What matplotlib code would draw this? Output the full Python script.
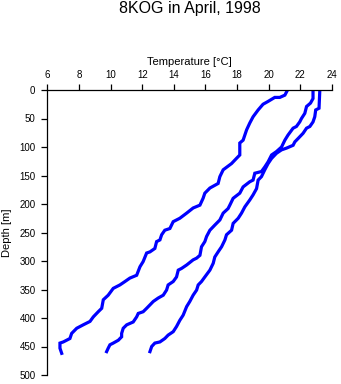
import matplotlib
matplotlib.use("Agg")
import matplotlib.pyplot as plt

plt.rcParams["font.family"] = ["Liberation Sans", "DejaVu Sans"]

# profile 1 (warm surface 21.2)
temp_a = [21.19, 21.02, 20.70, 20.38, 19.96, 19.64, 19.33, 19.01, 18.80, 18.60,
          18.38, 18.17, 18.17, 17.96, 17.65, 17.12, 16.91, 16.80, 16.28, 15.96,
          15.85, 15.65, 15.22, 14.81, 14.38, 13.96, 13.75, 13.43, 13.23, 13.12,
          12.91, 12.80, 12.49, 12.28, 12.06, 11.86, 11.65, 11.22, 10.91, 10.59,
          10.17, 9.85, 9.54, 9.44, 9.22, 8.91, 8.70, 8.27, 7.86, 7.54,
          7.43, 7.01, 6.80, 6.80, 6.91]
depth_a = [0, 9, 13, 13, 20, 25, 35, 47, 58, 70,
           88, 93, 114, 120, 129, 140, 152, 164, 172, 181,
           190, 202, 207, 216, 225, 231, 243, 246, 254, 263,
           266, 278, 284, 286, 301, 310, 325, 330, 336, 342,
           348, 360, 368, 383, 389, 398, 406, 412, 418, 427,
           436, 442, 444, 453, 462]

# profile 2 (surface 22.8)
temp_b = [22.80, 22.80, 22.64, 22.39, 22.28, 22.07, 21.96, 21.75, 21.54, 21.22,
          21.02, 20.81, 20.49, 20.18, 19.96, 19.75, 19.54, 19.12, 19.01, 18.80,
          18.38, 18.17, 17.75, 17.54, 17.43, 17.12, 16.91, 16.59, 16.28, 16.07,
          15.96, 15.75, 15.65, 15.44, 15.22, 14.81, 14.49, 14.28, 14.17, 13.96,
          13.64, 13.54, 13.33, 13.01, 12.70, 12.49, 12.28, 12.06, 11.75, 11.65,
          11.43, 11.02, 10.80, 10.70, 10.70, 10.49, 10.17, 9.96, 9.85, 9.75]
depth_b = [0, 15, 23, 29, 41, 50, 56, 64, 67, 79,
           88, 100, 108, 114, 126, 135, 143, 146, 158, 161,
           170, 181, 190, 202, 208, 216, 228, 237, 246, 257,
           266, 275, 290, 295, 298, 307, 313, 316, 328, 336,
           342, 351, 360, 365, 371, 377, 383, 389, 392, 398,
           407, 412, 418, 427, 433, 439, 444, 447, 453, 459]

# profile 3 (surface 23.2)
temp_c = [23.23, 23.18, 22.97, 22.91, 22.80, 22.60, 22.39, 22.17, 21.86, 21.65,
          21.54, 21.12, 20.81, 20.49, 20.18, 19.96, 19.75, 19.54, 19.33, 19.23,
          19.01, 18.80, 18.49, 18.28, 18.07, 17.75, 17.65, 17.33, 17.23, 17.02,
          16.80, 16.59, 16.49, 16.28, 15.96, 15.75, 15.54, 15.44, 15.22, 15.01,
          14.81, 14.59, 14.38, 14.17, 13.96, 13.64, 13.43, 13.12, 12.80, 12.60,
          12.49]
depth_c = [0, 32, 35, 47, 56, 64, 67, 76, 85, 91,
           97, 102, 105, 111, 120, 129, 140, 152, 158, 173,
           184, 193, 205, 216, 225, 234, 246, 254, 263, 275,
           284, 293, 304, 316, 328, 336, 342, 351, 360, 371,
           380, 395, 404, 415, 424, 430, 436, 442, 444, 450,
           459]

x_ticks = list(range(6, 25, 2))
y_ticks = list(range(0, 501, 50))

fig = plt.figure(figsize=(3.41, 3.84), dpi=100)
fig.patch.set_facecolor("white")
ax = fig.add_axes([47.3 / 341, 1 - 375 / 384, (332 - 47.3) / 341, (375 - 90) / 384])

for t, d in ((temp_a, depth_a), (temp_b, depth_b), (temp_c, depth_c)):
    ax.plot(t, d, color="#0000ff", linewidth=2.3, solid_joinstyle="miter")

ax.set_xlim(6, 24)
ax.set_ylim(500, 0)
ax.set_xticks(x_ticks)
ax.set_yticks(y_ticks)
ax.xaxis.tick_top()
ax.xaxis.set_label_position("top")

for side in ("right", "bottom"):
    ax.spines[side].set_visible(False)
for side in ("top", "left"):
    ax.spines[side].set_linewidth(0.9)

ax.tick_params(axis="both", direction="out", length=4, width=0.9,
               labelsize=7, colors="black")
ax.tick_params(axis="x", pad=3)
ax.tick_params(axis="y", pad=4.5)
ax.set_xlabel("Temperature [°C]", fontsize=8, labelpad=4)
ax.set_ylabel("Depth [m]", fontsize=8, labelpad=5)

fig.text(190 / 341, 1 - 9 / 384, "8KOG in April, 1998", ha="center", va="center",
         fontsize=11.5)

fig.savefig("out.png", dpi=100)
